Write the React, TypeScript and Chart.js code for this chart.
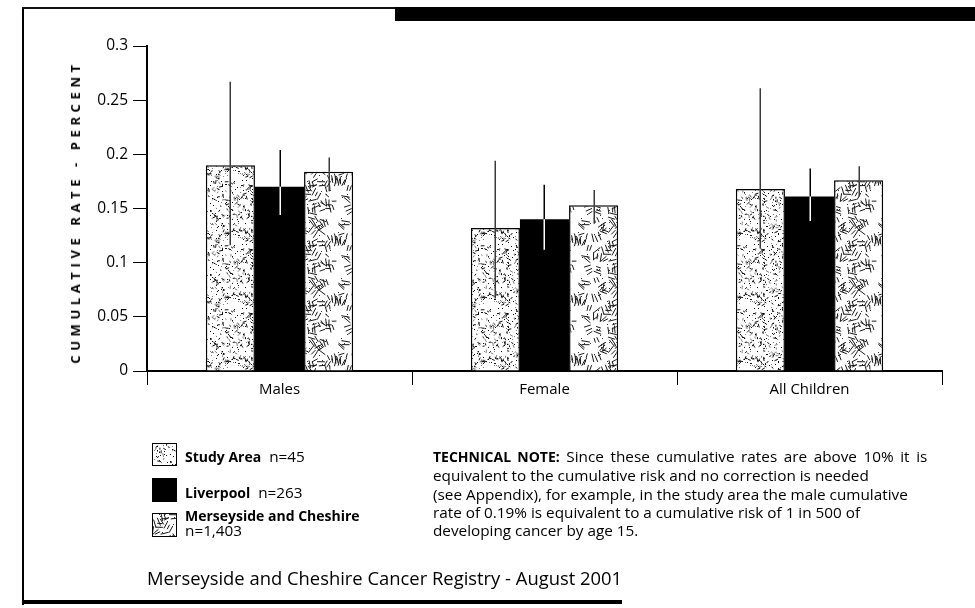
import React, { useEffect, useRef } from "react";
import { Chart, registerables } from "chart.js";

Chart.register(...registerables);

// Cumulative rate (percent) by group, with 95% confidence limits
const categories = ["Males", "Female", "All Children"];
const studyArea = [0.19, 0.132, 0.168];
const studyAreaLow = [0.116, 0.067, 0.113];
const studyAreaHigh = [0.267, 0.194, 0.261];
const liverpool = [0.17, 0.14, 0.161];
const liverpoolLow = [0.144, 0.112, 0.1385];
const liverpoolHigh = [0.204, 0.172, 0.187];
const merseyCheshire = [0.184, 0.153, 0.176];
const merseyCheshireLow = [0.166, 0.136, 0.161];
const merseyCheshireHigh = [0.197, 0.167, 0.189];
const yTicks = [0, 0.05, 0.1, 0.15, 0.2, 0.25, 0.3];

const FONT = "'Open Sans', 'Noto Sans', sans-serif";

// small deterministic generator for the fill textures
function seeded(seed: number) {
  let s = seed >>> 0;
  return () => {
    s = (s + 0x6d2b79f5) >>> 0;
    let t = s;
    t = Math.imul(t ^ (t >>> 15), t | 1);
    t ^= t + Math.imul(t ^ (t >>> 7), t | 61);
    return ((t ^ (t >>> 14)) >>> 0) / 4294967296;
  };
}

function wrapDraw(size: number, fn: (ox: number, oy: number) => void) {
  for (let dx = -1; dx <= 1; dx++) for (let dy = -1; dy <= 1; dy++) fn(dx * size, dy * size);
}

// fine speckled texture
function makeStipple(): HTMLCanvasElement {
  const size = 64;
  const c = document.createElement("canvas");
  c.width = size;
  c.height = size;
  const g = c.getContext("2d")!;
  g.fillStyle = "#fff";
  g.fillRect(0, 0, size, size);
  const r = seeded(11);
  g.lineCap = "round";
  for (let i = 0; i < 400; i++) {
    const x = r() * size;
    const y = r() * size;
    const k = r();
    const shade = r() < 0.6 ? "#111" : "#808080";
    const a = r() * Math.PI;
    const l = 1 + r() * 2.2;
    wrapDraw(size, (ox, oy) => {
      if (k < 0.55) {
        g.fillStyle = shade;
        g.fillRect(Math.floor(x + ox), Math.floor(y + oy), 1, 1);
      } else {
        g.strokeStyle = shade;
        g.lineWidth = 1;
        g.beginPath();
        g.moveTo(x + ox, y + oy);
        g.lineTo(x + ox + Math.cos(a) * l, y + oy + Math.sin(a) * l);
        g.stroke();
      }
    });
  }
  return c;
}

// scattered short strokes texture
function makeStraw(): HTMLCanvasElement {
  const size = 60;
  const c = document.createElement("canvas");
  c.width = size;
  c.height = size;
  const g = c.getContext("2d")!;
  g.fillStyle = "#fff";
  g.fillRect(0, 0, size, size);
  const r = seeded(5);
  for (let i = 0; i < 52; i++) {
    const cx = r() * size;
    const cy = r() * size;
    const a = r() * Math.PI;
    const n = 1 + Math.floor(r() * 3);
    for (let j = 0; j < n; j++) {
      const off = (j - (n - 1) / 2) * 3;
      const px = cx + Math.cos(a + Math.PI / 2) * off + (r() - 0.5) * 2;
      const py = cy + Math.sin(a + Math.PI / 2) * off + (r() - 0.5) * 2;
      const l = 4.5 + r() * 4.5;
      const aa = a + (r() - 0.5) * 0.3;
      wrapDraw(size, (ox, oy) => {
        g.strokeStyle = "#1a1a1a";
        g.lineWidth = 1;
        g.beginPath();
        g.moveTo(px + ox - (Math.cos(aa) * l) / 2, py + oy - (Math.sin(aa) * l) / 2);
        g.lineTo(px + ox + (Math.cos(aa) * l) / 2, py + oy + (Math.sin(aa) * l) / 2);
        g.stroke();
      });
    }
  }
  for (let i = 0; i < 50; i++) {
    const x = Math.floor(r() * size);
    const y = Math.floor(r() * size);
    g.fillStyle = "#333";
    g.fillRect(x, y, 1, 1);
  }
  return c;
}

function paintSwatch(cv: HTMLCanvasElement | null, fill: HTMLCanvasElement | string) {
  if (!cv) return;
  const g = cv.getContext("2d")!;
  g.fillStyle = typeof fill === "string" ? fill : (g.createPattern(fill, "repeat") as CanvasPattern);
  g.fillRect(0, 0, cv.width, cv.height);
  g.strokeStyle = "#000";
  g.lineWidth = 1;
  g.strokeRect(0.5, 0.5, cv.width - 1, cv.height - 1);
}

const errorLimits = [
  { low: studyAreaLow, high: studyAreaHigh, above: "#3a3a3a", inside: "#3a3a3a" },
  { low: liverpoolLow, high: liverpoolHigh, above: "#000", inside: "#fff" },
  { low: merseyCheshireLow, high: merseyCheshireHigh, above: "#3a3a3a", inside: "#3a3a3a" },
];

const errorBarPlugin = {
  id: "errorBars",
  afterDatasetsDraw(chart: any) {
    const { ctx } = chart;
    const y = chart.scales.y;
    ctx.save();
    ctx.lineWidth = 1.5;
    errorLimits.forEach((lim, di) => {
      const meta = chart.getDatasetMeta(di);
      meta.data.forEach((bar: any, i: number) => {
        const x = Math.round(bar.x) + 0.25;
        const yHi = y.getPixelForValue(lim.high[i]);
        const yLo = y.getPixelForValue(lim.low[i]);
        const top = bar.y;
        ctx.strokeStyle = lim.above;
        ctx.beginPath();
        ctx.moveTo(x, yHi);
        ctx.lineTo(x, Math.min(top, yLo));
        ctx.stroke();
        if (yLo > top) {
          ctx.strokeStyle = lim.inside;
          ctx.beginPath();
          ctx.moveTo(x, top);
          ctx.lineTo(x, yLo);
          ctx.stroke();
        }
      });
    });
    ctx.restore();
  },
};

const abs = (left: number, top: number, extra: React.CSSProperties = {}): React.CSSProperties => ({
  position: "absolute",
  left,
  top,
  ...extra,
});

export default function App() {
  const canvasRef = useRef<HTMLCanvasElement>(null);
  const swStudy = useRef<HTMLCanvasElement>(null);
  const swLiverpool = useRef<HTMLCanvasElement>(null);
  const swMersey = useRef<HTMLCanvasElement>(null);

  useEffect(() => {
    const canvas = canvasRef.current!;
    const ctx = canvas.getContext("2d")!;
    const stipple = makeStipple();
    const straw = makeStraw();
    const stipplePattern = ctx.createPattern(stipple, "repeat")!;
    const strawPattern = ctx.createPattern(straw, "repeat")!;

    paintSwatch(swStudy.current, stipple);
    paintSwatch(swLiverpool.current, "#000");
    paintSwatch(swMersey.current, straw);

    const chart = new Chart(ctx, {
      type: "bar",
      data: {
        labels: categories,
        datasets: [
          {
            label: "Study Area",
            data: studyArea,
            backgroundColor: stipplePattern as any,
            borderColor: "#000",
            borderWidth: 1.5,
          },
          {
            label: "Liverpool",
            data: liverpool,
            backgroundColor: "#000",
            borderColor: "#000",
            borderWidth: 0,
          },
          {
            label: "Merseyside and Cheshire",
            data: merseyCheshire,
            backgroundColor: strawPattern as any,
            borderColor: "#000",
            borderWidth: 1.5,
          },
        ],
      },
      options: {
        responsive: false,
        animation: false,
        devicePixelRatio: 1,
        layout: { padding: { left: 87, right: 33, top: 46, bottom: 197 } },
        datasets: {
          bar: { barPercentage: 1, categoryPercentage: 0.556 },
        },
        plugins: {
          legend: { display: false },
          tooltip: { enabled: false },
          title: { display: false },
        },
        scales: {
          x: {
            afterFit: (s: any) => {
              s.height = 40;
            },
            grid: {
              display: true,
              offset: true,
              drawOnChartArea: false,
              drawTicks: true,
              tickLength: 14,
              color: "#000",
              lineWidth: 1,
            },
            border: { display: true, color: "#000", width: 2 },
            ticks: {
              color: "#000",
              padding: -4,
              font: { family: FONT, size: 15 },
            },
          },
          y: {
            min: 0,
            max: 0.3,
            afterFit: (s: any) => {
              s.width = 60;
            },
            afterBuildTicks: (s: any) => {
              s.ticks = yTicks.map((v) => ({ value: v }));
            },
            grid: {
              display: true,
              drawOnChartArea: false,
              drawTicks: true,
              tickLength: 14,
              color: "#000",
              lineWidth: 1,
            },
            border: { display: true, color: "#000", width: 2 },
            ticks: {
              color: "#000",
              padding: 5,
              font: { family: FONT, size: 15.5 },
              callback: (v: any) => String(v),
            },
          },
        },
      },
      plugins: [errorBarPlugin],
    });
    return () => chart.destroy();
  }, []);

  const textBase: React.CSSProperties = {
    fontFamily: FONT,
    fontSize: 15.3,
    color: "#000",
    whiteSpace: "nowrap",
    lineHeight: "18px",
  };
  const bold: React.CSSProperties = { fontWeight: 700, fontSize: 14 };

  return (
    <div style={{ position: "absolute", left: 0, top: 0, width: 975, height: 608, background: "#fff", overflow: "hidden" }}>
      <canvas ref={canvasRef} width={975} height={608} style={abs(0, 0, { width: 975, height: 608 })} />

      {/* page frame */}
      <div style={abs(22, 7, { width: 2, height: 598, background: "#000" })} />
      <div style={abs(22, 7, { width: 373, height: 2, background: "#111" })} />
      <div style={abs(395, 7, { width: 580, height: 14, background: "#000" })} />
      <div style={abs(22, 600, { width: 600, height: 4, background: "#000" })} />

      {/* y axis title */}
      <div
        style={abs(75, 212, {
          transform: "translate(-50%, -50%) rotate(-90deg)",
          fontFamily: FONT,
          fontWeight: 700,
          fontSize: 13,
          letterSpacing: "4.6px",
          whiteSpace: "nowrap",
          color: "#000",
        })}
      >
        CUMULATIVE RATE - PERCENT
      </div>

      {/* legend */}
      <canvas ref={swStudy} width={25} height={23} style={abs(152, 443)} />
      <div style={abs(185, 447, textBase)}>
        <span style={bold}>Study Area</span>&nbsp; n=45
      </div>
      <canvas ref={swLiverpool} width={25} height={24} style={abs(152, 478)} />
      <div style={abs(185, 483, textBase)}>
        <span style={bold}>Liverpool</span>&nbsp; n=263
      </div>
      <canvas ref={swMersey} width={25} height={24} style={abs(152, 513)} />
      <div style={abs(185, 508, { ...textBase, lineHeight: "15px" })}>
        <span style={bold}>Merseyside and Cheshire</span>
        <br />
        n=1,403
      </div>

      {/* technical note */}
      <div style={abs(433, 447, { ...textBase, lineHeight: "18.3px" })}>
        <span style={{ wordSpacing: "2.6px" }}>
          <span style={bold}>TECHNICAL NOTE:</span> Since these cumulative rates are above 10% it is
        </span>
        <br />
        equivalent to the cumulative risk and no correction is needed
        <br />
        (see Appendix), for example, in the study area the male cumulative
        <br />
        rate of 0.19% is equivalent to a cumulative risk of 1 in 500 of
        <br />
        developing cancer by age 15.
      </div>

      {/* footer */}
      <div style={abs(147, 566, { ...textBase, fontSize: 18.4, lineHeight: "24px" })}>
        Merseyside and Cheshire Cancer Registry - August 2001
      </div>
    </div>
  );
}
